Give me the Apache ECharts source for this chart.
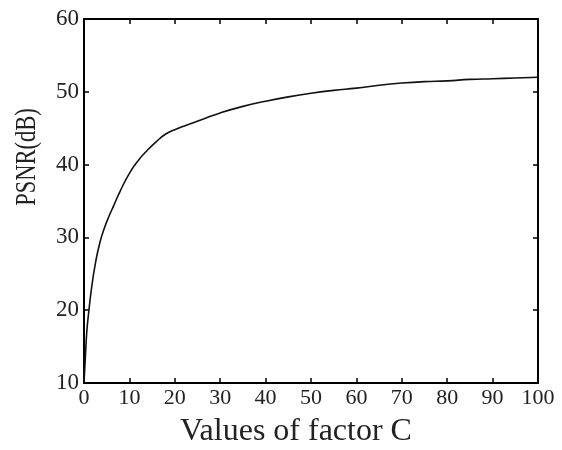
<!DOCTYPE html>
<html>
<head>
<meta charset="utf-8">
<script src="https://cdn.jsdelivr.net/npm/echarts@6/dist/echarts.min.js"></script>
<style>
html,body{margin:0;padding:0;background:#fff;}
#chart{width:562px;height:450px;}
</style>
</head>
<body>
<div id="chart"></div>
<script>
const cValues    = [0, 0.3, 0.6, 1, 1.7, 2.5, 3.5, 4.5, 5.5, 6.5, 8, 10, 12, 14, 16, 18, 20, 23, 26, 30, 35, 40, 45, 50, 55, 60, 65, 70, 75, 80, 85, 90, 95, 100];
const psnrValues = [10, 13.5, 16.9, 19.5, 23.2, 26.4, 29.3, 31.3, 32.9, 34.3, 36.4, 38.8, 40.6, 42.0, 43.2, 44.2, 44.8, 45.5, 46.2, 47.1, 48.0, 48.7, 49.3, 49.8, 50.2, 50.5, 50.9, 51.2, 51.4, 51.5, 51.7, 51.8, 51.9, 52.0];
const xTicks = {min: 0, max: 100, step: 10};
const yTicks = {min: 10, max: 60, step: 10};
const xTitle = 'Values of factor C';
const yTitle = 'PSNR(dB)';

const serif = '"Liberation Serif", "Times New Roman", serif';
const chart = echarts.init(document.getElementById('chart'), null, {renderer: 'canvas'});
const axisLine = {show: true, onZero: false, lineStyle: {color: '#000', width: 2}};
const axisTick = {show: true, inside: true, length: 5, lineStyle: {color: '#000', width: 1.5}};
const data = cValues.map((c, i) => [c, psnrValues[i]]);

chart.setOption({
  animation: false,
  backgroundColor: '#fff',
  grid: {left: 84, right: 24, top: 19, bottom: 67, containLabel: false},
  xAxis: [
    {type: 'value', position: 'bottom', min: xTicks.min, max: xTicks.max, interval: xTicks.step,
     axisLine, axisTick, splitLine: {show: false},
     axisLabel: {show: true, color: '#222', fontFamily: serif, fontSize: 22, margin: 4}},
    {type: 'value', position: 'top', min: xTicks.min, max: xTicks.max, interval: xTicks.step,
     axisLine, axisTick, splitLine: {show: false}, axisLabel: {show: false}}
  ],
  yAxis: [
    {type: 'value', position: 'left', min: yTicks.min, max: yTicks.max, interval: yTicks.step,
     axisLine, axisTick, splitLine: {show: false},
     axisLabel: {show: true, color: '#222', fontFamily: serif, fontSize: 23, margin: 5}},
    {type: 'value', position: 'right', min: yTicks.min, max: yTicks.max, interval: yTicks.step,
     axisLine, axisTick, splitLine: {show: false}, axisLabel: {show: false}}
  ],
  series: [{
    type: 'line', data: data, smooth: 0.5, showSymbol: false, symbol: 'none',
    lineStyle: {color: '#111', width: 1.6}, xAxisIndex: 0, yAxisIndex: 0
  }],
  graphic: [
    {type: 'text', x: 296, y: 432,
     style: {text: xTitle, fontFamily: serif, fontSize: 32, fill: '#222', align: 'center', verticalAlign: 'middle'}},
    {type: 'text', x: 27, y: 157, rotation: Math.PI / 2, scaleX: 0.75,
     style: {text: yTitle, fontFamily: serif, fontSize: 30, fill: '#222', align: 'center', verticalAlign: 'middle'}}
  ]
});
</script>
</body>
</html>
